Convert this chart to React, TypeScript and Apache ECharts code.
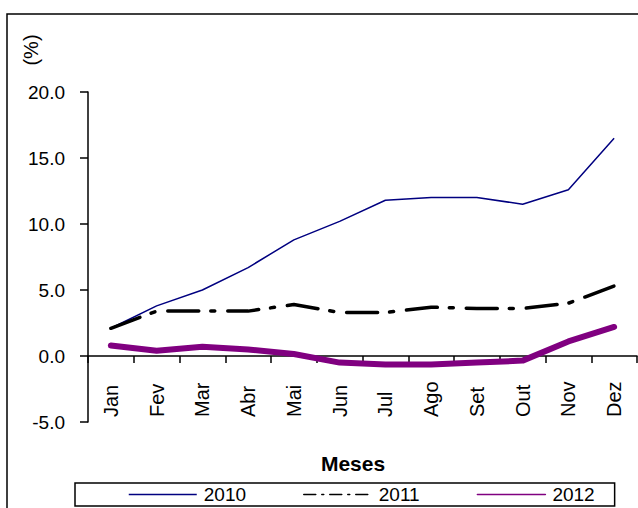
import React, { useEffect, useRef } from "react";
import * as echarts from "echarts";

const months = ["Jan", "Fev", "Mar", "Abr", "Mai", "Jun", "Jul", "Ago", "Set", "Out", "Nov", "Dez"];
const s2010 = [2.1, 3.8, 5.0, 6.7, 8.8, 10.2, 11.8, 12.0, 12.0, 11.5, 12.6, 16.5];
const s2011 = [2.1, 3.4, 3.4, 3.4, 3.9, 3.3, 3.3, 3.7, 3.6, 3.6, 4.0, 5.3];
const s2012 = [0.8, 0.4, 0.7, 0.5, 0.15, -0.5, -0.65, -0.65, -0.5, -0.35, 1.1, 2.2];
const yTicks = { min: -5, max: 20, interval: 5 };

const FONT = "Liberation Sans, Arial, sans-serif";

export default function App() {
  const ref = useRef<HTMLDivElement>(null);
  useEffect(() => {
    if (!ref.current) return;
    const chart = echarts.init(ref.current, null, { renderer: "svg" });
    chart.setOption({
      animation: false,
      backgroundColor: "#fff",
      textStyle: { fontFamily: FONT },
      grid: { left: 88, right: 1, top: 92, bottom: 86, containLabel: false },
      xAxis: {
        type: "category",
        data: months,
        boundaryGap: true,
        axisLine: { onZero: true, lineStyle: { color: "#000", width: 1.5 } },
        axisTick: { show: true, inside: false, length: 7, alignWithLabel: false, lineStyle: { color: "#000", width: 1.5 } },
        axisLabel: {
          rotate: 90,
          align: "left",
          verticalAlign: "middle",
          margin: -5,
          color: "#000",
          fontSize: 20,
          fontFamily: FONT,
        },
        splitLine: { show: false },
      },
      yAxis: {
        type: "value",
        min: yTicks.min,
        max: yTicks.max,
        interval: yTicks.interval,
        axisLine: { show: true, onZero: false, lineStyle: { color: "#000", width: 1.5 } },
        axisTick: { show: true, inside: false, length: 8, lineStyle: { color: "#000", width: 1.5 } },
        axisLabel: {
          formatter: (v: number) => v.toFixed(1),
          margin: 23,
          color: "#000",
          fontSize: 19,
          fontFamily: FONT,
        },
        splitLine: { show: false },
      },
      legend: {
        left: 75,
        top: 483,
        width: 553,
        orient: "horizontal",
        borderColor: "#000",
        borderWidth: 1.5,
        padding: [2, 20, 2, 53],
        itemGap: 57,
        itemWidth: 68,
        itemHeight: 14,
        itemStyle: { opacity: 0 },
        textStyle: { fontSize: 19, color: "#000", fontFamily: FONT, padding: [0, 0, 0, 2] },
        data: [
          { name: "2010", lineStyle: { width: 1.5 } },
          { name: "2011", lineStyle: { width: 1.5, type: [12, 6, 2, 6] } },
          { name: "2012", lineStyle: { width: 1.5 } },
        ],
      },
      series: [
        {
          name: "2010",
          type: "line",
          data: s2010,
          symbol: "none",
          lineStyle: { color: "#000080", width: 1.5 },
          itemStyle: { color: "#000080" },
        },
        {
          name: "2011",
          type: "line",
          data: s2011,
          symbol: "none",
          lineStyle: { color: "#000", width: 3.5, type: [31, 12, 4, 13], cap: "round" },
          itemStyle: { color: "#000" },
        },
        {
          name: "2012",
          type: "line",
          data: s2012,
          symbol: "none",
          lineStyle: { color: "#800080", width: 6, cap: "round", join: "round" },
          itemStyle: { color: "#800080" },
        },
      ],
      graphic: [
        {
          type: "rect",
          shape: { x: 7, y: 14, width: 700, height: 600 },
          style: { fill: "none", stroke: "#000", lineWidth: 1.5 },
          silent: true,
        },
        {
          type: "text",
          x: 31,
          y: 50,
          rotation: Math.PI / 2,
          style: { text: "(%)", fontSize: 20, fontFamily: FONT, fill: "#000", align: "center", verticalAlign: "middle" },
        },
        {
          type: "text",
          x: 353,
          y: 463,
          style: { text: "Meses", fontSize: 21, fontWeight: "bold", fontFamily: FONT, fill: "#000", align: "center", verticalAlign: "middle" },
        },
      ],
    });
    return () => chart.dispose();
  }, []);
  return <div ref={ref} style={{ position: "fixed", left: 0, top: 0, width: 638, height: 508 }} />;
}
